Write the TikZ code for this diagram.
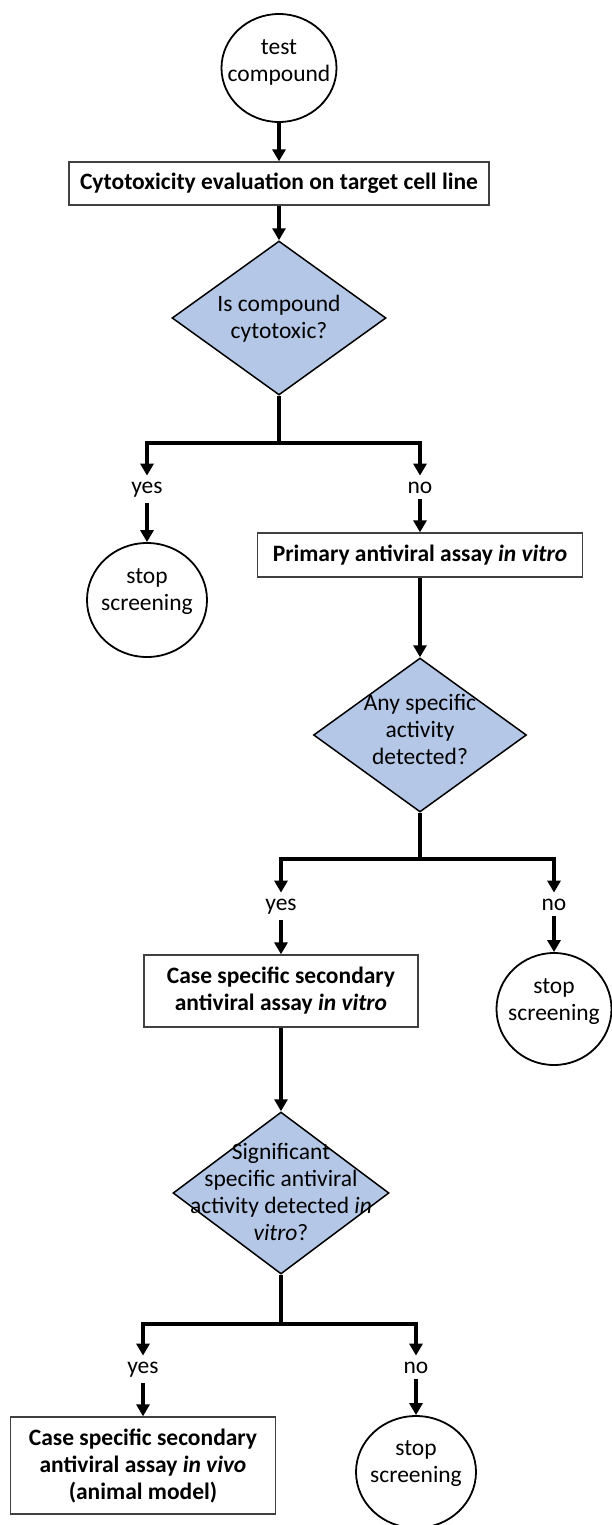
\documentclass[tikz,border=0pt]{standalone}
\usepackage{fontspec}
\setmainfont{Carlito}
\usetikzlibrary{arrows.meta,shapes.geometric}
\definecolor{diafill}{RGB}{180,199,231}
\begin{document}
\begin{tikzpicture}[x=1pt,y=-1pt,
  font=\fontsize{23.5}{27}\selectfont,
  conn/.style={line width=4pt},
  arr/.style={conn,-{Triangle[width=13pt,length=12pt]}},
  circ/.style={ellipse,draw,line width=1.8pt,fill=white,inner sep=0pt},
  box/.style={draw=black!75,line width=1.3pt,fill=white,align=center,inner sep=0pt,
    font=\bfseries\fontsize{23.5}{27}\selectfont},
  dia/.style={diamond,draw,line width=1.5pt,fill=diafill,inner sep=0pt},
  txt/.style={align=center,inner sep=0pt},
  lab/.style={inner sep=0pt,outer sep=6pt,anchor=base}]
\useasboundingbox (0,0) rectangle (611,1525);

% top
\node[circ,minimum width=115,minimum height=108] (tc) at (279,68) {};
\node[txt] (tct) at (279,62) {test\\compound};
\node[box,minimum width=420,minimum height=43] (b1) at (279,183.5) {Cytotoxicity evaluation on target cell line};
\node[dia,minimum width=214,minimum height=154] (d1) at (279,318) {};
\node[txt] (d1t) at (279,319) {Is compound\\cytotoxic?};
\coordinate (s1) at (279,443);
\node[lab] (y1) at (147,493) {yes};
\node[lab] (n1) at (420,493) {no};
\node[circ,minimum width=120,minimum height=114] (st1) at (147,600) {};
\node[txt] (st1t) at (147,592) {stop\\screening};
\node[box,minimum width=325,minimum height=44] (b2) at (420,555) {Primary antiviral assay \textit{in vitro}};

% second decision
\node[dia,minimum width=213,minimum height=154] (d2) at (420,735) {};
\node[txt] (d2t) at (420,729) {Any specific\\activity\\detected?};
\coordinate (s2) at (420,859);
\node[lab] (y2) at (281,910) {yes};
\node[lab] (n2) at (554,910) {no};
\node[box,minimum width=274,minimum height=72] (b3) at (281,991) {Case specific secondary\\antiviral assay \textit{in vitro}};
\node[circ,minimum width=115,minimum height=112] (st2) at (554,1009) {};
\node[txt] (st2t) at (554,1001.5) {stop\\screening};

% third decision
\node[dia,minimum width=216,minimum height=162] (d3) at (281,1193) {};
\node[txt] (d3t) at (281,1192) {Significant\\specific antiviral\\activity detected \textit{in}\\\textit{vitro}?};
\coordinate (s3) at (281,1324);
\node[lab] (y3) at (143,1373) {yes};
\node[lab] (n3) at (416,1373) {no};
\node[box,minimum width=265,minimum height=97] (b4) at (143,1465.5) {Case specific secondary\\antiviral assay \textit{in vivo}\\(animal model)};
\node[circ,minimum width=120,minimum height=112] (st3) at (416,1472) {};
\node[txt] (st3t) at (416,1463.5) {stop\\screening};

% connectors
\draw[arr] (tc.south) -- (b1.north);
\draw[arr] (b1.south) -- (d1.north);
\draw[conn] (d1.south) -- (s1);
\draw[arr] (s1) -| (y1.north);
\draw[arr] (s1) -| (n1.north);
\draw[arr] (y1.south) -- (st1.north);
\draw[arr] (n1.south) -- (b2.north);
\draw[arr] (b2.south) -- (d2.north);
\draw[conn] (d2.south) -- (s2);
\draw[arr] (s2) -| (y2.north);
\draw[arr] (s2) -| (n2.north);
\draw[arr] (y2.south) -- (b3.north);
\draw[arr] (n2.south) -- (st2.north);
\draw[arr] (b3.south) -- (d3.north);
\draw[conn] (d3.south) -- (s3);
\draw[arr] (s3) -| (y3.north);
\draw[arr] (s3) -| (n3.north);
\draw[arr] (y3.south) -- (b4.north);
\draw[arr] (n3.south) -- (st3.north);
\end{tikzpicture}
\end{document}
